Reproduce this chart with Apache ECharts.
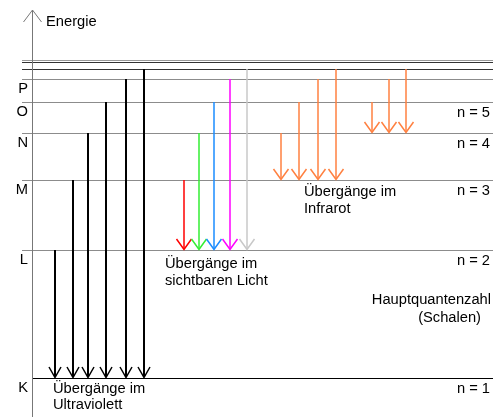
<!DOCTYPE html>
<html>
<head>
<meta charset="utf-8">
<script src="https://cdn.jsdelivr.net/npm/echarts@6/dist/echarts.min.js"></script>
<style>
html, body { margin: 0; padding: 0; background: #fff; }
#chart { width: 493px; height: 417px; }
</style>
</head>
<body>
<div id="chart"></div>
<script>
// Schalen K..P, Energie von K aus gemessen (willkürliche Einheit)
const shellNames = ['K', 'L', 'M', 'N', 'O', 'P'];
const shellNumbers = ['n = 1', 'n = 2', 'n = 3', 'n = 4', 'n = 5', ''];
const shellEnergy = [0, 128, 198, 245, 276, 299];
// weitere Niveaus oberhalb von P
const upperEnergy = [309, 316, 318];

// Übergänge: Lage auf der x-Achse und Startniveau
const uvX = [55, 73, 88, 106, 126, 144];
const uvFrom = [128, 198, 245, 276, 299, 309];
const visX = [184, 199, 214, 230, 247];
const visFrom = [198, 245, 276, 299, 309];
const irX = [281, 299, 318, 336];
const irFrom = [245, 276, 299, 309];
const brX = [372, 389, 406];
const brFrom = [276, 299, 309];

const FONT = '14.7px "Liberation Sans", Arial, sans-serif';
const visColors = ['#ff0000', '#33ee33', '#1a8cff', '#ff00ff', '#c8c8c8'];

// Pfeil von oben nach unten, offene Spitze
function arrowItem(color, lineW, headW) {
    return function (params, api) {
        const top = api.coord([api.value(0), api.value(1)]);
        const tip = api.coord([api.value(0), api.value(2)]);
        const c = Array.isArray(color) ? color[params.dataIndex] : color;
        return {
            type: 'group',
            children: [
                {
                    type: 'line',
                    shape: { x1: top[0], y1: top[1], x2: tip[0], y2: tip[1] - 1 },
                    style: { stroke: c, lineWidth: lineW }
                },
                {
                    type: 'polyline',
                    shape: { points: [[tip[0] - headW, tip[1] - 11], [tip[0], tip[1] - 0.5], [tip[0] + headW, tip[1] - 11]] },
                    style: { stroke: c, lineWidth: 1.5, fill: null }
                }
            ]
        };
    };
}

function transitions(name, xs, from, to, color, lineW, headW) {
    return {
        name: name,
        type: 'custom',
        renderItem: arrowItem(color, lineW, headW),
        data: xs.map((x, i) => [x, from[i], to]),
        z: 5
    };
}

const chart = echarts.init(document.getElementById('chart'));
chart.setOption({
    animation: false,
    grid: { left: 0, right: 0, top: 0, bottom: 0 },
    xAxis: { type: 'value', min: 0, max: 493, show: false },
    yAxis: { type: 'value', min: -39, max: 378, show: false },
    graphic: [
        // Energieachse
        { type: 'line', shape: { x1: 32.5, y1: 10, x2: 32.5, y2: 417 }, style: { stroke: '#777', lineWidth: 1 }, z: 10 },
        { type: 'polyline', shape: { points: [[23.5, 22], [32.5, 10], [41.5, 22]] }, style: { stroke: '#777', lineWidth: 1, fill: null }, z: 10 },
        { type: 'text', left: 46, top: 14, style: { text: 'Energie', font: FONT, fill: '#000' } },
        // Beschriftungen
        { type: 'text', left: 165, top: 255, style: { text: 'Übergänge im\nsichtbaren Licht', font: FONT, fill: '#000', lineHeight: 17 } },
        { type: 'text', left: 304, top: 183, style: { text: 'Übergänge im\nInfrarot', font: FONT, fill: '#000', lineHeight: 17 } },
        { type: 'text', left: 53, top: 381, style: { text: 'Übergänge im\nUltraviolett', font: FONT, fill: '#000', lineHeight: 16 } },
        { type: 'text', right: 2, top: 292, style: { text: 'Hauptquantenzahl', font: FONT, fill: '#000' } },
        { type: 'text', right: 12, top: 310, style: { text: '(Schalen)', font: FONT, fill: '#000' } }
    ],
    series: [
        {
            name: 'Schalen',
            type: 'custom',
            data: shellEnergy.map((e, i) => [e, i]),
            renderItem: function (params, api) {
                const i = api.value(1);
                const a = api.coord([22, api.value(0)]);
                const b = api.coord([493, api.value(0)]);
                const y = Math.round(a[1]) + 0.5;
                return {
                    type: 'group',
                    children: [
                        {
                            type: 'line',
                            shape: { x1: i === 0 ? 32 : a[0], y1: y, x2: b[0], y2: y },
                            style: { stroke: i === 0 ? '#000' : '#8c8c8c', lineWidth: 1 }
                        },
                        {
                            type: 'text',
                            style: { text: shellNames[i], x: 28, y: y + 9, font: FONT, fill: '#000', align: 'right', verticalAlign: 'middle' }
                        },
                        {
                            type: 'text',
                            style: { text: shellNumbers[i], x: 490, y: y + 10, font: FONT, fill: '#000', align: 'right', verticalAlign: 'middle' }
                        }
                    ]
                };
            }
        },
        {
            name: 'Niveaus',
            type: 'custom',
            data: upperEnergy.map(e => [e]),
            renderItem: function (params, api) {
                const a = api.coord([22, api.value(0)]);
                const b = api.coord([493, api.value(0)]);
                const y = Math.round(a[1]) + 0.5;
                return {
                    type: 'line',
                    shape: { x1: a[0], y1: y, x2: b[0], y2: y },
                    style: { stroke: params.dataIndex === 2 ? '#999' : '#333', lineWidth: 1 }
                };
            }
        },
        transitions('Ultraviolett', uvX, uvFrom, shellEnergy[0], '#000', 2, 6),
        transitions('Sichtbar', visX, visFrom, shellEnergy[1], visColors, 1.5, 7.5),
        transitions('Infrarot', irX, irFrom, shellEnergy[2], '#ff8040', 1.5, 7.5),
        transitions('Brackett', brX, brFrom, shellEnergy[3], '#ff8040', 1.5, 7.5)
    ]
});
</script>
</body>
</html>
